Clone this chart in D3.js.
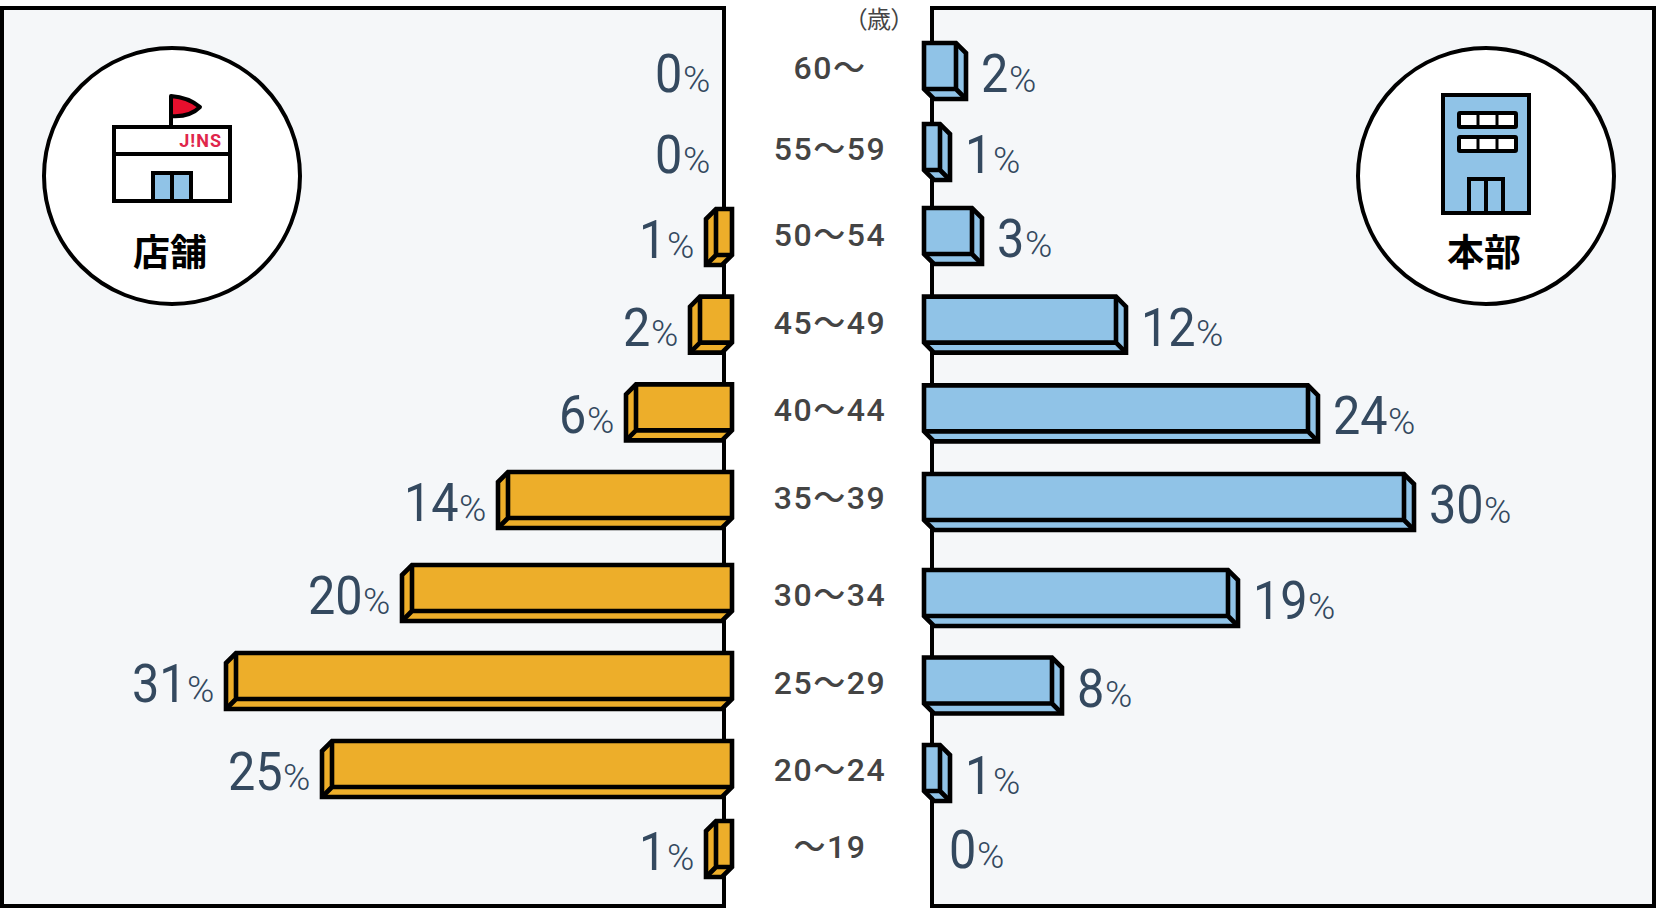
<!DOCTYPE html>
<html>
<head>
<meta charset="utf-8">
<title>年齢構成</title>
<script src="https://d3js.org/d3.v7.min.js"></script>
<style>
    html, body { margin: 0; padding: 0; background: #fff; }
    svg { display: block; }
</style>
</head>
<body>
<svg width="1656" height="908"></svg>
<script>
    // top row first, same order as the picture
    const ages = ["60～", "55～59", "50～54", "45～49", "40～44", "35～39", "30～34", "25～29", "20～24", "～19"];
    const storeValues = [0, 0, 1, 2, 6, 14, 20, 31, 25, 1];
    const officeValues = [2, 1, 3, 12, 24, 30, 19, 8, 1, 0];

    const ink = "#000";
    const orange = "#EDAE2A";
    const blue = "#90C3E7";
    const panelBg = "#F5F7F9";
    const valueColor = "#34495F";
    const ageColor = "#444";
    const jpFont = "'Noto Sans CJK JP', sans-serif";

    const svg = d3.select("svg");

    // rows in the original are not evenly spaced, so piecewise
    const rowKnots = [0, 1, 2, 5, 6, 8, 9];
    const rowStore = d3.scaleLinear().domain(rowKnots).range([71, 152, 237, 500, 593, 769, 849]);
    const rowOffice = d3.scaleLinear().domain(rowKnots).range([71, 152, 236, 502, 598, 773, 847]);
    const rowAge = d3.scaleLinear().domain(rowKnots).range([71, 152, 238, 501, 598, 773, 850]);

    const barLen = d3.scaleLinear().domain([0, 30]).range([0, 480]);

    const depth = 10;      // side/bottom face of the bar
    const barH = 56;
    const edgeL = 732;     // right end of the left bars
    const edgeR = 924;     // left end of the right bars
    const barStroke = 4.6;
    const digitW = 27;     // squeezed digit width
    const percentW = 27;

    // panels
    svg.append("rect").attr("x", 2).attr("y", 8).attr("width", 722).attr("height", 898)
        .attr("fill", panelBg).attr("stroke", ink).attr("stroke-width", 4);
    svg.append("rect").attr("x", 932).attr("y", 8).attr("width", 722).attr("height", 898)
        .attr("fill", panelBg).attr("stroke", ink).attr("stroke-width", 4);

    // dir = 1 grows right, dir = -1 grows left
    function drawBars(values, rowY, x0, dir, fill) {
        const bars = svg.append("g").selectAll("g")
            .data(values.map((v, i) => ({ v, i })).filter(d => d.v > 0))
            .join("g")
            .attr("transform", d => `translate(${x0},${rowY(d.i) - barH / 2}) scale(${dir},1)`);

        bars.append("path")
            .attr("d", d => {
                const w = barLen(d.v) + depth;
                return `M0,0H${w - depth}L${w},${depth}V${barH}H${depth}L0,${barH - depth}Z`;
            })
            .attr("fill", fill).attr("stroke", ink).attr("stroke-width", barStroke)
            .attr("stroke-linejoin", "miter");

        bars.append("path")
            .attr("d", d => {
                const f = barLen(d.v);
                return `M0,${barH - depth}H${f}V0M${f},${barH - depth}L${f + depth},${barH}`;
            })
            .attr("fill", "none").attr("stroke", ink).attr("stroke-width", barStroke);
    }

    function drawLabels(values, rowY, x0, dir) {
        const g = svg.append("g").selectAll("g").data(values).join("g")
            .attr("transform", (d, i) => {
                const w = String(d).length * digitW + 1 + percentW;
                const gap = dir > 0 ? 15 : 12;
                const end = x0 + dir * (barLen(d) + depth + gap);
                return `translate(${dir > 0 ? end : end - w},${rowY(i) + 21})`;
            });
        g.append("text")
            .attr("transform", "scale(0.9,1)")
            .attr("font-family", "Roboto, sans-serif").attr("font-size", 54)
            .attr("fill", valueColor)
            .text(d => d);
        g.append("text")
            .attr("x", d => String(d).length * digitW + 1)
            .attr("font-family", "Roboto, sans-serif").attr("font-size", 37)
            .attr("font-weight", 300)
            .attr("fill", valueColor)
            .text("%");
    }

    drawBars(storeValues, rowStore, edgeL, -1, orange);
    drawBars(officeValues, rowOffice, edgeR, 1, blue);
    drawLabels(storeValues, rowStore, edgeL, -1);
    drawLabels(officeValues, rowOffice, edgeR, 1);

    // age column
    svg.append("g").selectAll("text").data(ages).join("text")
        .attr("x", 830)
        .attr("y", (d, i) => rowAge(i) + 8)
        .attr("text-anchor", "middle")
        .attr("font-family", "Roboto, 'Noto Sans CJK JP', sans-serif")
        .attr("font-weight", 500)
        .attr("font-size", 32)
        .attr("letter-spacing", 1.5)
        .attr("fill", ageColor)
        .text(d => d);

    svg.append("text")
        .attr("x", 879).attr("y", 28)
        .attr("text-anchor", "middle")
        .attr("font-family", jpFont).attr("font-size", 24)
        .attr("fill", ageColor)
        .style("font-feature-settings", "'palt'")
        .text("（歳）");

    // left badge
    const badgeL = svg.append("g");
    badgeL.append("circle").attr("cx", 172).attr("cy", 176).attr("r", 128)
        .attr("fill", "#fff").attr("stroke", ink).attr("stroke-width", 4);
    badgeL.append("path").attr("d", "M171,127V96C184,97 194,102 200,107C194,113 184,117 171,116")
        .attr("fill", "#E60F2D").attr("stroke", ink).attr("stroke-width", 4).attr("stroke-linejoin", "round");
    badgeL.append("rect").attr("x", 114).attr("y", 127).attr("width", 116).attr("height", 74)
        .attr("fill", "#fff").attr("stroke", ink).attr("stroke-width", 4);
    badgeL.append("line").attr("x1", 114).attr("x2", 230).attr("y1", 154).attr("y2", 154)
        .attr("stroke", ink).attr("stroke-width", 4);
    badgeL.append("rect").attr("x", 153).attr("y", 173).attr("width", 38).attr("height", 28)
        .attr("fill", blue).attr("stroke", ink).attr("stroke-width", 4);
    badgeL.append("line").attr("x1", 172).attr("x2", 172).attr("y1", 173).attr("y2", 201)
        .attr("stroke", ink).attr("stroke-width", 4);
    badgeL.append("text").attr("x", 222).attr("y", 147).attr("text-anchor", "end")
        .attr("font-family", "Roboto, sans-serif").attr("font-weight", 700).attr("font-size", 18)
        .attr("letter-spacing", 1).attr("fill", "#E0264B").text("J!NS");
    badgeL.append("text").attr("x", 170).attr("y", 266).attr("text-anchor", "middle")
        .attr("font-family", jpFont).attr("font-weight", 700).attr("font-size", 37)
        .attr("fill", ink).text("店舗");

    // right badge
    const badgeR = svg.append("g");
    badgeR.append("circle").attr("cx", 1486).attr("cy", 176).attr("r", 128)
        .attr("fill", "#fff").attr("stroke", ink).attr("stroke-width", 4);
    badgeR.append("rect").attr("x", 1443).attr("y", 95).attr("width", 86).attr("height", 118)
        .attr("fill", blue).attr("stroke", ink).attr("stroke-width", 4);
    [113, 137].forEach(top => {
        badgeR.append("rect").attr("x", 1459).attr("y", top).attr("width", 57).attr("height", 14).attr("rx", 1)
            .attr("fill", "#fff").attr("stroke", ink).attr("stroke-width", 4);
        [1478, 1497].forEach(x => {
            badgeR.append("line").attr("x1", x).attr("x2", x).attr("y1", top).attr("y2", top + 14)
                .attr("stroke", ink).attr("stroke-width", 3);
        });
    });
    badgeR.append("rect").attr("x", 1469).attr("y", 179).attr("width", 34).attr("height", 34)
        .attr("fill", blue).attr("stroke", ink).attr("stroke-width", 4);
    badgeR.append("line").attr("x1", 1486).attr("x2", 1486).attr("y1", 179).attr("y2", 213)
        .attr("stroke", ink).attr("stroke-width", 4);
    badgeR.append("text").attr("x", 1484).attr("y", 266).attr("text-anchor", "middle")
        .attr("font-family", jpFont).attr("font-weight", 700).attr("font-size", 37)
        .attr("fill", ink).text("本部");
</script>
</body>
</html>
